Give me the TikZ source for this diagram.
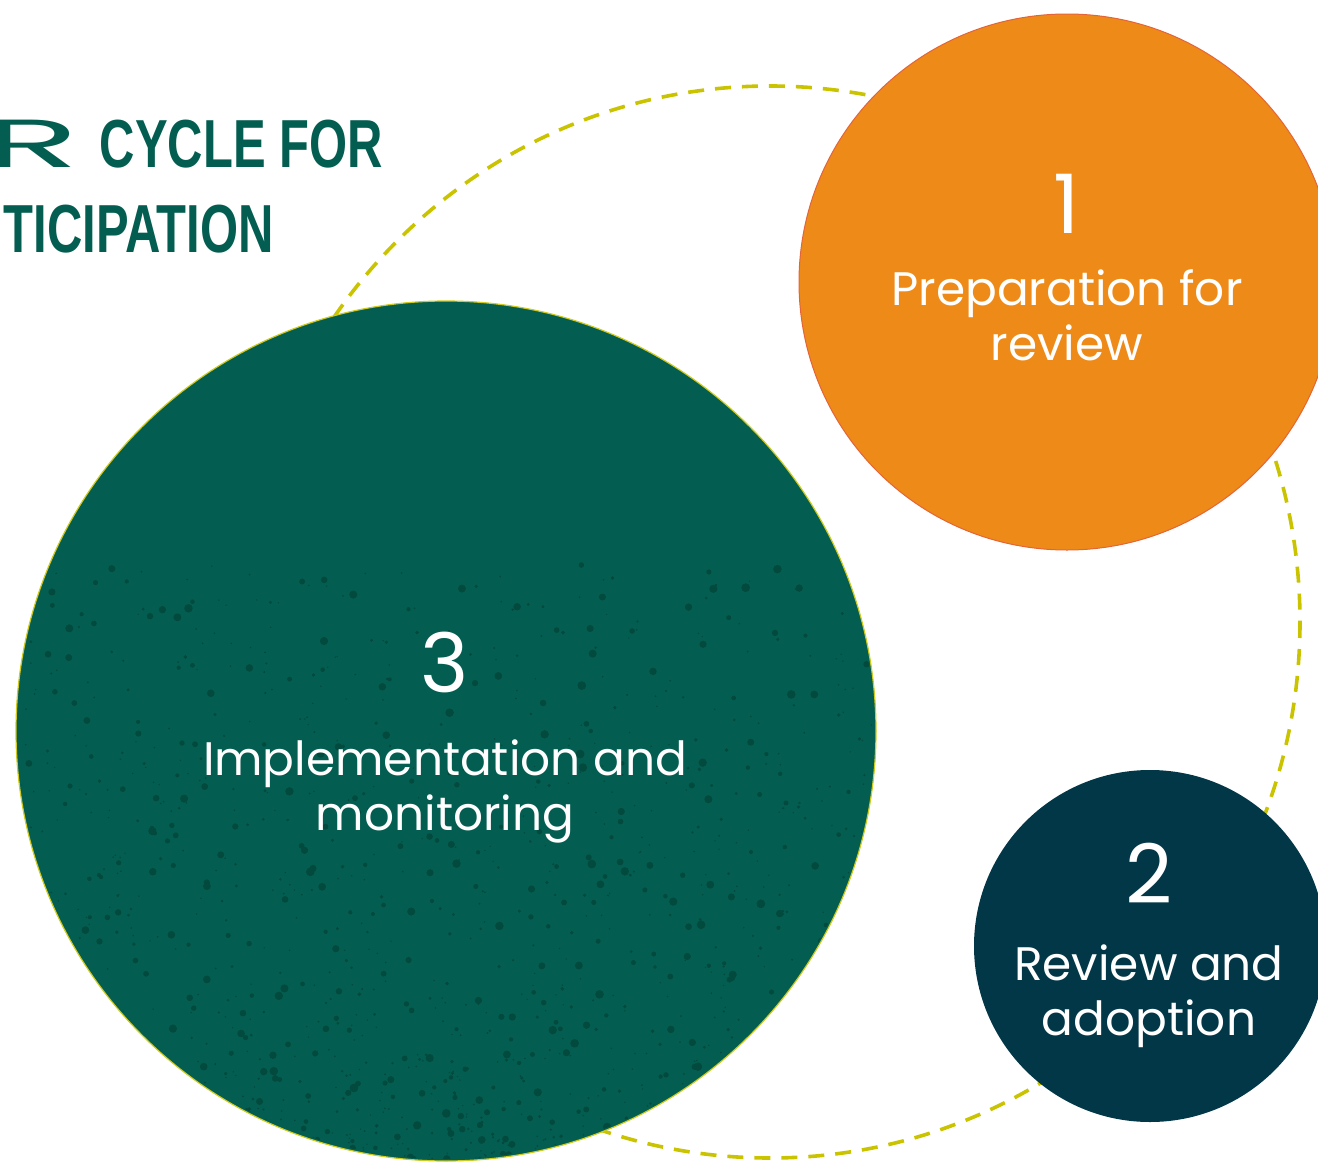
\documentclass[tikz,border=0pt]{standalone}
\usepackage{fontspec}
\setmainfont{Poppins}
\newfontfamily\titlefont[FakeStretch=0.72]{Liberation Sans}
\usetikzlibrary{positioning}

\definecolor{prepOrange}{HTML}{EE8A17}
\definecolor{prepEdge}{HTML}{E4643A}
\definecolor{implGreen}{HTML}{035E51}
\definecolor{implSpeck}{HTML}{02493E}
\definecolor{implEdge}{HTML}{CFCB1E}
\definecolor{reviewNavy}{HTML}{023747}
\definecolor{ringYellow}{HTML}{C9C300}

\tikzset{
  stage/.style={circle, inner sep=0pt, outer sep=0pt},
  stagenum/.style={text=white, font=\fontsize{82}{82}\selectfont, anchor=base, inner sep=0pt},
  stagetext/.style={text=white, font=\fontsize{47}{55}\selectfont, align=center, anchor=base, inner sep=0pt},
  ring/.style={draw=ringYellow, line width=3.6pt, dash pattern=on 16pt off 11pt},
  heading/.style={text=implGreen, font=\titlefont\bfseries\fontsize{68}{68}\selectfont, anchor=base east, inner sep=0pt}
}

\begin{document}
\begin{tikzpicture}[x=1pt, y=-1pt]
\useasboundingbox (0,0) rectangle (1318,1167);
\clip (0,0) rectangle (1318,1167);

%Title:
\node (title1) [heading] at (383,167) {\scalebox{2.3}[1]{\mdseries\fontspec{Poppins}R}\hspace{20pt}CYCLE FOR};
\node (title2) [heading] at (274,252) {TICIPATION};

%Dashed cycle:
\coordinate (hub) at (770,622);
\draw [ring] (hub) ellipse [x radius=530, y radius=536];

%Stages:
\node (prep) [stage, fill=prepOrange, draw=prepEdge, line width=1pt, minimum size=536pt] at (1067,282) {};
\node (review) [stage, fill=reviewNavy, minimum size=352pt] at (1150,946) {};
\node (impl) [stage, fill=implGreen, draw=implEdge, line width=1.2pt, minimum size=860pt] at (446,731) {};

%Speckles:
\begin{scope}
\clip (446,731) circle (428);
\pgfmathsetseed{42}
\foreach \i in {1,...,1600}{
  \pgfmathsetmacro\px{20+852*rnd}
  \pgfmathsetmacro\py{1165-600*rnd^2.2}
  \pgfmathsetmacro\pr{0.8+3.6*rnd^3}
  \fill [implSpeck] (\px,\py) circle (\pr pt);
}
\end{scope}

%Labels:
\node (prepnum) [stagenum] at (1067,233) {1};
\node (preptext) [stagetext] at (1067,360) {Preparation for\\review};
\node (reviewnum) [stagenum] at (1149,903) {2};
\node (reviewtext) [stagetext] at (1149,1035) {Review and\\adoption};
\node (implnum) [stagenum] at (445,692) {3};
\node (impltext) [stagetext] at (445,830) {Implementation and\\monitoring};
\end{tikzpicture}
\end{document}
